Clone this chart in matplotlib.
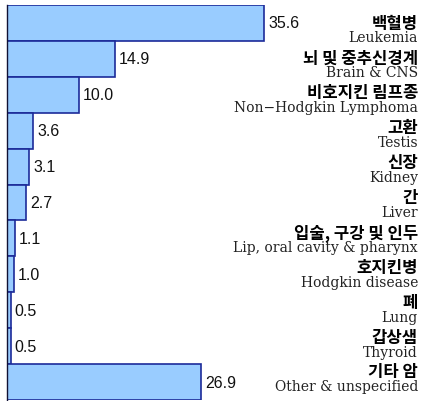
import matplotlib
matplotlib.use("Agg")
import matplotlib.pyplot as plt

korean = ["백혈병", "뇌 및 중추신경계", "비호지킨 림프종", "고환", "신장", "간",
          "입술, 구강 및 인두", "호지킨병", "폐", "갑상샘", "기타 암"]
english = ["Leukemia", "Brain & CNS", "Non\u2212Hodgkin Lymphoma", "Testis", "Kidney",
           "Liver", "Lip, oral cavity & pharynx", "Hodgkin disease", "Lung",
           "Thyroid", "Other & unspecified"]
values = [35.6, 14.9, 10.0, 3.6, 3.1, 2.7, 1.1, 1.0, 0.5, 0.5, 26.9]

W, H = 422, 402
fig = plt.figure(figsize=(W / 100, H / 100), dpi=100)
ax = fig.add_axes([7 / W, 1 / H, 415 / W, 395 / H])

pos = list(range(len(values)))
ax.barh(pos, values, height=1.0, color="#99ccff", edgecolor="#1c2b99", linewidth=1.2)

ax.set_xlim(0, 415 / 7.22)
ax.set_ylim(len(values) - 0.5, -0.5)
for s in ["top", "right", "bottom"]:
    ax.spines[s].set_visible(False)
ax.spines["left"].set_color("#111133")
ax.spines["left"].set_linewidth(1.0)
ax.set_xticks([])
ax.set_yticks([])

for i, v in enumerate(values):
    ax.text(v + 0.55, i, f"{v:.1f}", va="center", ha="left",
            fontsize=11.5, family="Liberation Sans", color="#111111")
    # label block: rows are spaced a bit tighter than the bars
    yk = 1 - (23.5 + 34.9 * i) / H
    fig.text(418 / W, yk, korean[i], ha="right", va="center", fontsize=12,
             fontweight="heavy", family=["Noto Sans CJK KR", "DejaVu Sans"])
    fig.text(418 / W, yk - 15 / H, english[i], ha="right", va="center",
             fontsize=10, family="DejaVu Serif", color="#222222")

fig.savefig("out.png", dpi=100)
